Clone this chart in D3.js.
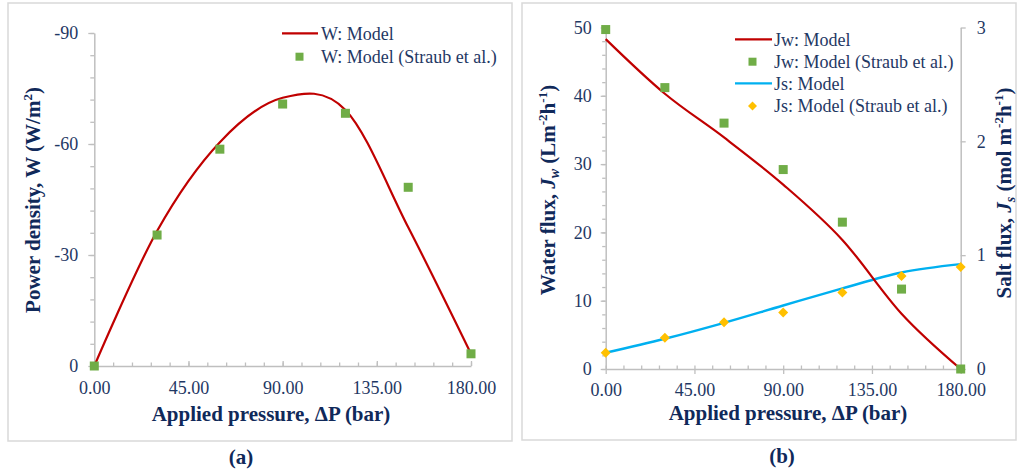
<!DOCTYPE html>
<html>
<head>
<meta charset="utf-8">
<script src="https://cdn.jsdelivr.net/npm/d3@7"></script>
<style>
  body { margin: 0; background: #fff; }
  text { font-family: "Liberation Serif", "Times New Roman", Tinos, "DejaVu Serif", serif; }
</style>
</head>
<body>
<svg id="chart" width="1019" height="475"></svg>
<script>
// Applied pressure (bar)
const pressureTicks = [0, 45, 90, 135, 180];
const pressure = [0, 30, 60, 90, 120, 150, 180];

// (a) Power density W (W/m2)
const powerModel = [0, -36.5, -60.5, -72.5, -69.2, -37.5, -3.3];
const powerStraub = [0, -35.4, -58.6, -70.8, -68.3, -48.3, -3.3];
const powerTicks = [0, -30, -60, -90];

// (b) Water flux Jw (L m-2 h-1) and salt flux Js (mol m-2 h-1)
const waterModel = [48.3, 40.3, 33.9, 27.0, 18.9, 8.1, 0];
const waterStraub = [49.7, 41.2, 36.0, 29.2, 21.5, 11.7, 0];
const waterTicks = [0, 10, 20, 30, 40, 50];
const saltModel = [0.143, 0.266, 0.406, 0.558, 0.708, 0.848, 0.921];
const saltStraub = [0.143, 0.275, 0.410, 0.497, 0.673, 0.816, 0.897];
const saltTicks = [0, 1, 2, 3];

const C = {
  frame: "#d9d9d9", axis: "#bfbfbf", label: "#1f3864", title: "#10295a",
  red: "#c00000", green: "#70ad47", blue: "#00b0f0", gold: "#ffc000"
};

const svg = d3.select("#chart");

// panel frames
svg.append("rect").attr("x", 8).attr("y", 3).attr("width", 504).attr("height", 438)
  .attr("fill", "none").attr("stroke", C.frame).attr("stroke-width", 1.5);
svg.append("rect").attr("x", 522).attr("y", 3).attr("width", 494).attr("height", 437)
  .attr("fill", "none").attr("stroke", C.frame).attr("stroke-width", 1.5);

function styleAxis(g, size) {
  g.attr("font-family", null).attr("font-size", null);
  g.select(".domain").attr("stroke", C.axis).attr("stroke-width", 1.5);
  g.selectAll(".tick line").attr("stroke", C.axis).attr("stroke-width", 1.3);
  g.selectAll(".tick text").attr("fill", C.label).style("font-size", size + "px");
}
function minor(g) {
  g.attr("font-family", null).attr("font-size", null);
  g.select(".domain").remove();
  g.selectAll(".tick line").attr("stroke", C.axis).attr("stroke-width", 1.3);
  g.selectAll(".tick text").remove();
}
const fmt2 = d3.format(".2f");
const plain = d => String(d);

function square(g, pts, size) {
  g.selectAll(null).data(pts).join("rect")
    .attr("x", d => d[0] - size / 2).attr("y", d => d[1] - size / 2)
    .attr("width", size).attr("height", size).attr("fill", C.green);
}
function diamond(g, pts, r) {
  g.selectAll(null).data(pts).join("path")
    .attr("d", `M0,${-r}L${r},0L0,${r}L${-r},0Z`)
    .attr("transform", d => `translate(${d[0]},${d[1]})`)
    .attr("fill", C.gold);
}
const smooth = d3.line().curve(d3.curveCardinal.tension(0));

// ---------- (a) power density ----------
const xA = d3.scaleLinear().domain([0, 180]).range([94.3, 471]);
const yA = d3.scaleLinear().domain([0, -90]).range([366, 33]);

svg.append("g").attr("transform", "translate(94.3,0)")
  .call(d3.axisLeft(yA).tickValues(d3.range(0, -91, -6)).tickSize(4).tickFormat(""))
  .call(minor);
svg.append("g").attr("transform", "translate(94.3,0)")
  .call(d3.axisLeft(yA).tickValues(powerTicks).tickSizeInner(6).tickSizeOuter(0).tickPadding(10).tickFormat(plain))
  .call(g => styleAxis(g, 18));
svg.append("g").attr("transform", "translate(0,366)")
  .call(d3.axisBottom(xA).tickValues(d3.range(0, 181, 9)).tickSize(-3.5).tickFormat(""))
  .call(minor);
svg.append("g").attr("transform", "translate(0,366)")
  .call(d3.axisBottom(xA).tickValues(pressureTicks).tickSizeInner(-5).tickSizeOuter(0).tickPadding(15).tickFormat(fmt2))
  .call(g => styleAxis(g, 18));

svg.append("path")
  .datum(pressure.map((p, i) => [xA(p), yA(powerModel[i])]))
  .attr("d", smooth)
  .attr("fill", "none").attr("stroke", C.red).attr("stroke-width", 2.2);
square(svg.append("g"), pressure.map((p, i) => [xA(p), yA(powerStraub[i])]), 9);

// legend (a)
svg.append("line").attr("x1", 282).attr("x2", 318).attr("y1", 33.3).attr("y2", 33.3)
  .attr("stroke", C.red).attr("stroke-width", 2.2);
square(svg.append("g"), [[299.5, 56.7]], 8);
svg.append("text").attr("x", 321).attr("y", 33.3).attr("dy", "0.35em")
  .attr("fill", C.label).style("font-size", "18px").text("W: Model");
svg.append("text").attr("x", 321).attr("y", 56.7).attr("dy", "0.35em")
  .attr("fill", C.label).style("font-size", "18px").text("W: Model (Straub et al.)");

// axis titles (a)
const tA = svg.append("text").attr("transform", "translate(33,200) rotate(-90)")
  .attr("text-anchor", "middle").attr("dy", "0.35em")
  .attr("fill", C.title).style("font-size", "21px").style("font-weight", "bold");
tA.append("tspan").text("Power density, W (W/m");
tA.append("tspan").attr("dy", -8).style("font-size", "13px").text("2");
tA.append("tspan").attr("dy", 8).text(")");

svg.append("text").attr("x", 271).attr("y", 414).attr("dy", "0.35em")
  .attr("text-anchor", "middle").attr("fill", C.title)
  .style("font-size", "21px").style("font-weight", "bold").text("Applied pressure, \u0394P (bar)");
svg.append("text").attr("x", 241).attr("y", 457).attr("dy", "0.35em")
  .attr("text-anchor", "middle").attr("fill", C.title)
  .style("font-size", "21px").style("font-weight", "bold").text("(a)");

// ---------- (b) water and salt flux ----------
const xB = d3.scaleLinear().domain([0, 180]).range([605.7, 960.7]);
const yB = d3.scaleLinear().domain([0, 50]).range([369, 27.5]);
const yS = d3.scaleLinear().domain([0, 3]).range([369, 27.5]);

svg.append("g").attr("transform", "translate(605.7,0)")
  .call(d3.axisLeft(yB).tickValues(d3.range(0, 51, 2)).tickSize(3.5).tickFormat(""))
  .call(minor);
svg.append("g").attr("transform", "translate(605.7,0)")
  .call(d3.axisLeft(yB).tickValues(waterTicks).tickSizeInner(5).tickSizeOuter(0).tickPadding(9).tickFormat(plain))
  .call(g => styleAxis(g, 18));
svg.append("g").attr("transform", "translate(960.7,0)")
  .call(d3.axisRight(yS).tickValues(saltTicks).tickSizeInner(5).tickSizeOuter(0).tickPadding(11).tickFormat(plain))
  .call(g => styleAxis(g, 18));
svg.append("g").attr("transform", "translate(0,369)")
  .call(d3.axisBottom(xB).tickValues(d3.range(0, 181, 9)).tickSize(-3.5).tickFormat(""))
  .call(minor);
svg.append("g").attr("transform", "translate(0,369)")
  .call(d3.axisBottom(xB).tickValues(pressureTicks).tickSizeInner(5).tickSizeOuter(0).tickPadding(9).tickFormat(fmt2))
  .call(g => styleAxis(g, 18));

svg.append("path")
  .datum(pressure.map((p, i) => [xB(p), yS(saltModel[i])]))
  .attr("d", smooth).attr("fill", "none").attr("stroke", C.blue).attr("stroke-width", 2.4);
svg.append("path")
  .datum(pressure.map((p, i) => [xB(p), yB(waterModel[i])]))
  .attr("d", smooth).attr("fill", "none").attr("stroke", C.red).attr("stroke-width", 2.2);
square(svg.append("g"), pressure.map((p, i) => [xB(p), yB(waterStraub[i])]), 9);
diamond(svg.append("g"), pressure.map((p, i) => [xB(p), yS(saltStraub[i])]), 5);

// legend (b)
const legB = [
  { y: 39.3, kind: "line", color: C.red, label: "Jw: Model" },
  { y: 61.7, kind: "square", label: "Jw: Model (Straub et al.)" },
  { y: 83.3, kind: "line", color: C.blue, label: "Js: Model" },
  { y: 106, kind: "diamond", label: "Js: Model (Straub et al.)" }
];
legB.forEach(e => {
  if (e.kind === "line") {
    svg.append("line").attr("x1", 735).attr("x2", 772).attr("y1", e.y).attr("y2", e.y)
      .attr("stroke", e.color).attr("stroke-width", 2.3);
  } else if (e.kind === "square") {
    square(svg.append("g"), [[752.5, e.y]], 8);
  } else {
    diamond(svg.append("g"), [[752.5, e.y]], 4.5);
  }
  svg.append("text").attr("x", 774).attr("y", e.y).attr("dy", "0.35em")
    .attr("fill", C.label).style("font-size", "18px").text(e.label);
});

// axis titles (b)
function fluxTitle(x, y, sym, sub, unit) {
  const t = svg.append("text").attr("transform", `translate(${x},${y}) rotate(-90)`)
    .attr("text-anchor", "middle").attr("dy", "0.35em")
    .attr("fill", C.title).style("font-size", "21px").style("font-weight", "bold");
  t.append("tspan").text(sym);
  t.append("tspan").style("font-style", "italic").text("J");
  t.append("tspan").attr("dy", 4).style("font-style", "italic").style("font-size", "14px").text(sub);
  t.append("tspan").attr("dy", -4).text(" (" + unit);
  t.append("tspan").attr("dy", -8).style("font-size", "13px").text("-2");
  t.append("tspan").attr("dy", 8).text("h");
  t.append("tspan").attr("dy", -8).style("font-size", "13px").text("-1");
  t.append("tspan").attr("dy", 8).text(")");
}
fluxTitle(548, 190, "Water flux, ", "w", "Lm");
fluxTitle(1004, 193, "Salt flux, ", "s", "mol m");

svg.append("text").attr("x", 788).attr("y", 413).attr("dy", "0.35em")
  .attr("text-anchor", "middle").attr("fill", C.title)
  .style("font-size", "21px").style("font-weight", "bold").text("Applied pressure, \u0394P (bar)");
svg.append("text").attr("x", 782).attr("y", 456).attr("dy", "0.35em")
  .attr("text-anchor", "middle").attr("fill", C.title)
  .style("font-size", "21px").style("font-weight", "bold").text("(b)");
</script>
</body>
</html>
